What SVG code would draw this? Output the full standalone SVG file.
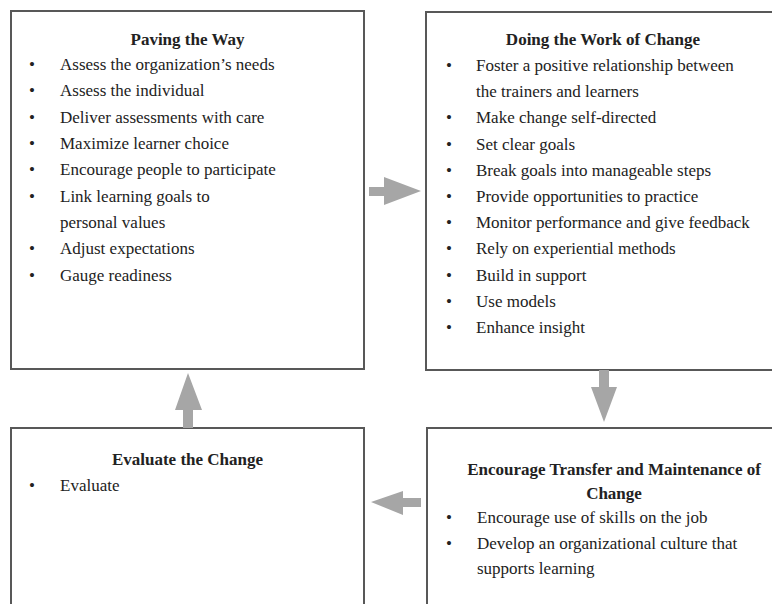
<svg xmlns="http://www.w3.org/2000/svg" width="772" height="604" viewBox="0 0 772 604">
<style>
.box{fill:#fff;stroke:#585858;stroke-width:2}
.t{font-family:"Liberation Serif","Times New Roman",serif;font-size:17px;fill:#222}
.h{font-weight:bold;text-anchor:middle}
.arr{fill:#a6a6a6}
</style>
<rect width="772" height="604" fill="#fff"/>
<g id="paving">
<rect class="box" x="11" y="11" width="353" height="358"/>
<text class="t h" x="187.5" y="45">Paving the Way</text>
<g class="t">
<text x="29" y="70">•</text><text x="60" y="70">Assess the organization’s needs</text>
<text x="29" y="96">•</text><text x="60" y="96">Assess the individual</text>
<text x="29" y="123">•</text><text x="60" y="123">Deliver assessments with care</text>
<text x="29" y="149">•</text><text x="60" y="149">Maximize learner choice</text>
<text x="29" y="175">•</text><text x="60" y="175">Encourage people to participate</text>
<text x="29" y="202">•</text><text x="60" y="202">Link learning goals to</text>
<text x="60" y="228">personal values</text>
<text x="29" y="254">•</text><text x="60" y="254">Adjust expectations</text>
<text x="29" y="281">•</text><text x="60" y="281">Gauge readiness</text>
</g>
</g>
<g id="doing">
<rect class="box" x="426" y="12" width="356" height="358"/>
<text class="t h" x="603" y="45">Doing the Work of Change</text>
<g class="t">
<text x="446" y="71">•</text><text x="476" y="71">Foster a positive relationship between</text>
<text x="476" y="97">the trainers and learners</text>
<text x="446" y="123">•</text><text x="476" y="123">Make change self-directed</text>
<text x="446" y="150">•</text><text x="476" y="150">Set clear goals</text>
<text x="446" y="176">•</text><text x="476" y="176">Break goals into manageable steps</text>
<text x="446" y="202">•</text><text x="476" y="202">Provide opportunities to practice</text>
<text x="446" y="228">•</text><text x="476" y="228">Monitor performance and give feedback</text>
<text x="446" y="254">•</text><text x="476" y="254">Rely on experiential methods</text>
<text x="446" y="281">•</text><text x="476" y="281">Build in support</text>
<text x="446" y="307">•</text><text x="476" y="307">Use models</text>
<text x="446" y="333">•</text><text x="476" y="333">Enhance insight</text>
</g>
</g>
<g id="evaluate">
<rect class="box" x="11" y="428" width="353" height="200"/>
<text class="t h" x="187.5" y="465">Evaluate the Change</text>
<g class="t">
<text x="29" y="491">•</text><text x="60" y="491">Evaluate</text>
</g>
</g>
<g id="transfer">
<rect class="box" x="427" y="428" width="376" height="200"/>
<text class="t h" x="614" y="475">Encourage Transfer and Maintenance of</text>
<text class="t h" x="614" y="499">Change</text>
<g class="t">
<text x="446" y="523">•</text><text x="477" y="523">Encourage use of skills on the job</text>
<text x="446" y="549">•</text><text x="477" y="549">Develop an organizational culture that</text>
<text x="477" y="574">supports learning</text>
</g>
</g>
<g id="connectors">
<polygon class="arr" points="369,187 384,187 384,177 421,191 384,205 384,196 369,196"/>
<polygon class="arr" points="599,370 609,370 609,387 617,387 604,422 591,387 599,387"/>
<polygon class="arr" points="421,498 403,498 403,491 371,502 403,515 403,507 421,507"/>
<polygon class="arr" points="183,428 183,410 175,410 188,373 202,410 193,410 193,428"/>
</g>
</svg>
